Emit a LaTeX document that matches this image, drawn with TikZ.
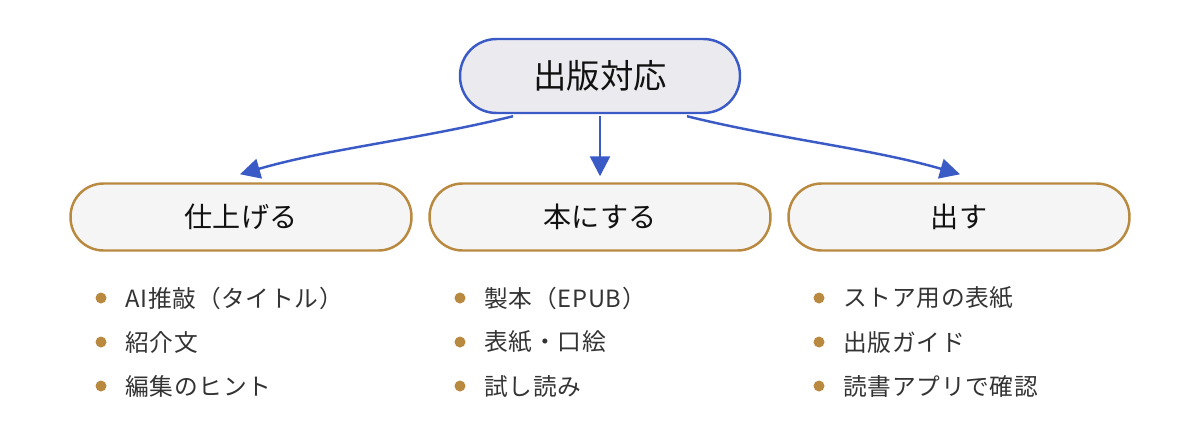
\documentclass[tikz,border=0pt]{standalone}
\usepackage{fontspec}
\setmainfont{Noto Sans CJK JP}
\newfontfamily\jpfont{Noto Sans CJK JP}
\newfontfamily\listfont[LetterSpace=3]{Noto Sans CJK JP}
\usetikzlibrary{arrows.meta,calc}
\definecolor{blueline}{HTML}{3A5BC6}
\definecolor{topfill}{HTML}{EBEBEF}
\definecolor{gold}{HTML}{B8893F}
\definecolor{boxfill}{HTML}{F5F5F5}
\definecolor{itemtext}{HTML}{333333}
\definecolor{headtext}{HTML}{111111}
\tikzset{
  topbox/.style={draw=blueline, line width=1.4pt, fill=topfill, rounded corners=0.73cm,
    minimum width=5.6cm, minimum height=1.48cm, inner sep=0pt, text=headtext,
    font=\jpfont\fontsize{19}{22}\selectfont},
  catbox/.style={draw=gold, line width=1.4pt, fill=boxfill, rounded corners=0.66cm,
    minimum width=6.82cm, minimum height=1.34cm, inner sep=0pt, text=headtext,
    font=\jpfont\fontsize{16}{19}\selectfont},
  conn/.style={draw=blueline, line width=1.4pt, -{Triangle[length=0.4cm,width=0.4cm]}},
  bulletdot/.style={circle, fill=gold, inner sep=0pt, minimum size=0.22cm},
  itemlabel/.style={anchor=west, inner sep=0pt, text=itemtext,
    font=\listfont\fontsize{13.5}{16}\selectfont},
}
\begin{document}
\begin{tikzpicture}[x=0.02cm, y=-0.02cm]
\useasboundingbox (0,0) rectangle (1200,434);
\node[topbox] (top) at (600,76) {出版対応};
\node[catbox] (b1) at (241,217) {仕上げる};
\node[catbox] (b2) at (600,217) {本にする};
\node[catbox] (b3) at (959,217) {出す};
\coordinate (s1) at ($(top.south)+(-87,2)$);
\coordinate (s2) at ($(top.south)+(0,2)$);
\coordinate (s3) at ($(top.south)+(87,2)$);
\coordinate (e1) at ($(b1.north)+(-1,-8)$);
\coordinate (e2) at ($(b2.north)+(0,-6)$);
\coordinate (e3) at ($(b3.north)+(1,-8)$);
\draw[conn] (s1) .. controls ($(s1)+(-93,23)$) and ($(e1)+(90,-26)$) .. (e1);
\draw[conn] (s2) -- (e2);
\draw[conn] (s3) .. controls ($(s3)+(93,23)$) and ($(e3)+(-90,-26)$) .. (e3);
% list 1
\node[bulletdot] (d11) at (101,298) {};
\node[bulletdot] (d12) at (101,342) {};
\node[bulletdot] (d13) at (101,386) {};
\node[itemlabel] (t11) at (125,298) {AI推敲（タイトル）};
\node[itemlabel] (t12) at (125,342) {紹介文};
\node[itemlabel] (t13) at (125,386) {編集のヒント};
% list 2
\node[bulletdot] (d21) at (460,298) {};
\node[bulletdot] (d22) at (460,342) {};
\node[bulletdot] (d23) at (460,386) {};
\node[itemlabel] (t21) at (484,298) {製本（EPUB）};
\node[itemlabel] (t22) at (484,342) {表紙・口絵};
\node[itemlabel] (t23) at (484,386) {試し読み};
% list 3
\node[bulletdot] (d31) at (819,298) {};
\node[bulletdot] (d32) at (819,342) {};
\node[bulletdot] (d33) at (819,386) {};
\node[itemlabel] (t31) at (843,298) {ストア用の表紙};
\node[itemlabel] (t32) at (843,342) {出版ガイド};
\node[itemlabel] (t33) at (843,386) {読書アプリで確認};
\end{tikzpicture}
\end{document}
